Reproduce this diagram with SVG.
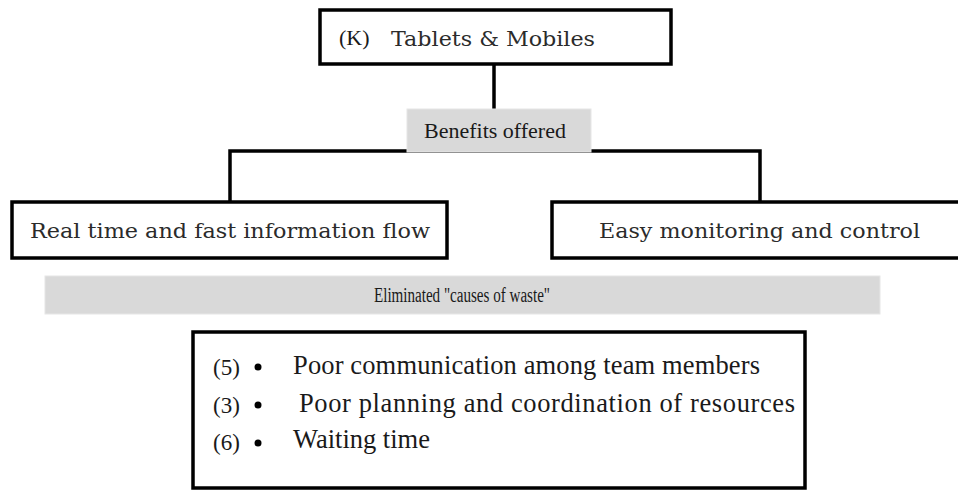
<svg xmlns="http://www.w3.org/2000/svg" width="958" height="491" viewBox="0 0 958 491">
<style>
.box{fill:#fff;stroke:#000;stroke-width:3.5}
.band{fill:#d9d9d9;stroke:#e6e6e6;stroke-width:1}
.conn{stroke:#000;stroke-width:3.5;fill:none}
.cam{font-family:"DejaVu Serif","Liberation Serif",serif;fill:#2b2b2b}
.tnr{font-family:"Liberation Serif","Times New Roman",serif;fill:#1a1a1a}
.lbl{font-family:"Liberation Serif","Times New Roman",serif;fill:#1a1a1a;font-size:23px}
.item{font-family:"Liberation Serif","Times New Roman",serif;fill:#1a1a1a;font-size:26.5px}
.dot{fill:#000}
</style>
<rect width="958" height="491" fill="#fff"/>
<g id="connectors">
<line class="conn" x1="494" y1="64" x2="494" y2="110"/>
<polyline class="conn" points="230,203 230,151 760,151 760,203"/>
</g>
<g id="top">
<rect class="box" x="320" y="10" width="351" height="54"/>
<text class="tnr" x="339" y="45" font-size="22">(K)</text>
<text class="cam" x="391" y="46" font-size="20" textLength="204" lengthAdjust="spacingAndGlyphs">Tablets &amp; Mobiles</text>
</g>
<g id="benefits">
<rect class="band" x="407" y="109" width="184" height="43"/>
<text class="tnr" x="424" y="138" font-size="22">Benefits offered</text>
</g>
<g id="left">
<rect class="box" x="12" y="202" width="435" height="56"/>
<text class="cam" x="30" y="238" font-size="20" textLength="400" lengthAdjust="spacingAndGlyphs">Real time and fast information flow</text>
</g>
<g id="right">
<rect class="box" x="552" y="202" width="420" height="56"/>
<text class="cam" x="599" y="238" font-size="20" textLength="321" lengthAdjust="spacingAndGlyphs">Easy monitoring and control</text>
</g>
<g id="eliminated">
<rect class="band" x="45" y="276" width="835" height="38"/>
<text class="tnr" x="374" y="302" font-size="20" textLength="176" lengthAdjust="spacingAndGlyphs">Eliminated "causes of waste"</text>
</g>
<g id="causes">
<rect class="box" x="193" y="332" width="612" height="156"/>
<text class="lbl" x="213" y="375">(5)</text>
<circle class="dot" cx="258" cy="367" r="3.5"/>
<text class="item" x="293" y="374" textLength="467" lengthAdjust="spacing">Poor communication among team members</text>
<text class="lbl" x="213" y="413">(3)</text>
<circle class="dot" cx="258" cy="405" r="3.5"/>
<text class="item" x="299" y="412" textLength="496" lengthAdjust="spacing">Poor planning and coordination of resources</text>
<text class="lbl" x="213" y="450">(6)</text>
<circle class="dot" cx="258" cy="443" r="3.5"/>
<text class="item" x="293" y="448">Waiting time</text>
</g>
</svg>
